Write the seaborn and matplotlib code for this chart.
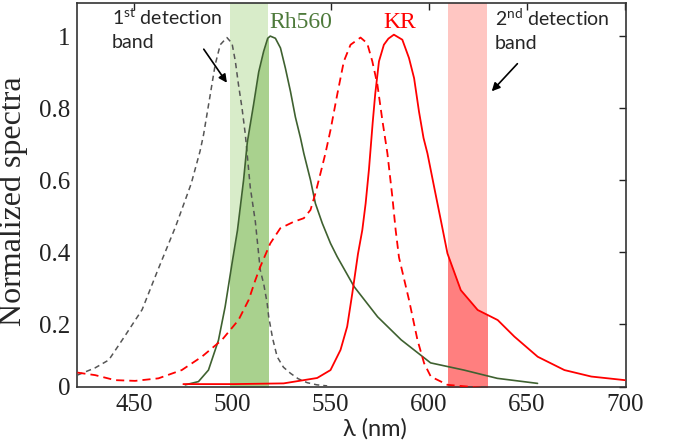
import matplotlib
matplotlib.use("Agg")
import matplotlib.pyplot as plt
import seaborn as sns
import pandas as pd

# Rh560 absorption (grey dashed)
rh_abs_nm = [421, 430, 437, 445, 454, 462, 471, 479, 483.5, 485.3, 488.7, 491.2, 493.8, 497.2,
             499.8, 501.5, 503.1, 504.9, 506.6, 509.1, 511.7, 514.2, 516, 517.7, 518.5, 520.5,
             522.8, 526, 529.6, 533.5, 538.1, 543, 548.3]
rh_abs = [0.058, 0.078, 0.10, 0.165, 0.24, 0.35, 0.47, 0.59, 0.68, 0.726, 0.837, 0.92, 0.976, 0.996,
          0.98, 0.93, 0.865, 0.80, 0.726, 0.58, 0.484, 0.35, 0.31, 0.258, 0.22, 0.16,
          0.109, 0.08, 0.063, 0.048, 0.037, 0.031, 0.028]

# Rh560 emission (dark green solid)
rh_em_nm = [476, 482.7, 487.8, 492.9, 496.3, 499.8, 502.6, 505.7, 507.6, 510.8, 513.4, 515.9, 518,
            519.3, 521.9, 524.5, 527, 529.6, 532.1, 534.7, 536.4, 539.8, 542.3, 545.8, 550, 553.4,
            562, 574, 586, 601, 618, 635, 655.5]
rh_em = [0.031, 0.04, 0.072, 0.155, 0.248, 0.368, 0.461, 0.6, 0.705, 0.81, 0.90, 0.957, 0.994,
         1.0, 0.994, 0.967, 0.911, 0.846, 0.775, 0.717, 0.674, 0.60, 0.535, 0.48, 0.424, 0.387,
         0.304, 0.22, 0.156, 0.092, 0.072, 0.049, 0.035]

# KR absorption (red dashed)
kr_abs_nm = [421, 430, 440.2, 450.4, 462.3, 474.2, 484.4, 494.7, 503.1, 508.3, 511.7, 514.2, 519.3,
             524.4, 531.2, 536.4, 539.8, 542.3, 544.9, 547.4, 550, 553.4, 556.8, 560.2, 565.3,
             568.7, 571.3, 573.9, 576.4, 579, 581.5, 583.2, 584.9, 590, 594.3, 597.7, 601.1,
             609.6, 626.6, 647.1]
kr_abs = [0.065, 0.058, 0.044, 0.042, 0.049, 0.072, 0.109, 0.156, 0.211, 0.267, 0.322, 0.359, 0.424,
          0.466, 0.484, 0.494, 0.517, 0.563, 0.619, 0.674, 0.739, 0.837, 0.93, 0.976, 0.996,
          0.98, 0.93, 0.865, 0.767, 0.674, 0.554, 0.461, 0.385, 0.267, 0.156, 0.091, 0.054,
          0.031, 0.023, 0.021]

# KR emission (red solid)
kr_em_nm = [475, 500.6, 526.1, 543.2, 550, 555.1, 558.5, 561.1, 564, 566.2, 567.9, 569.6, 571.5,
            572.8, 574.7, 577.2, 579.5, 582.3, 586.6, 590, 592.6, 595.1, 597.4, 599.4, 602.8,
            606.2, 609.6, 616.4, 625, 635.2, 643.7, 655.6, 669.2, 682.9, 700]
kr_em = [0.033, 0.033, 0.035, 0.05, 0.072, 0.128, 0.193, 0.285, 0.395, 0.461, 0.535, 0.63, 0.76,
         0.84, 0.93, 0.976, 0.993, 1.004, 0.99, 0.939, 0.883, 0.79, 0.717, 0.674, 0.581,
         0.489, 0.396, 0.294, 0.239, 0.211, 0.165, 0.109, 0.072, 0.054, 0.044]

band1 = (499, 518)
band2 = (610, 630)

x_ticks = [450, 500, 550, 600, 650, 700]
y_ticks = [0.025, 0.2, 0.4, 0.6, 0.8, 1.0]
y_tick_labels = ["0", "0.2", "0.4", "0.6", "0.8", "1"]

GREEN = "#3f6130"
GREY = "#555555"
RED = "#ff0000"

sns.set_style("white")
plt.rcParams["font.family"] = ["Liberation Serif", "DejaVu Serif"]
plt.rcParams["mathtext.fontset"] = "custom"
plt.rcParams["mathtext.rm"] = "Lato"
SANS = ["Lato", "DejaVu Sans"]

fig = plt.figure(figsize=(6.85, 4.48), dpi=100)
ax = fig.add_axes([0.1124, 0.1362, 0.8015, 0.8571])

# detection bands, the part under the emission curve darker
span1 = ax.axvspan(*band1, color="#d8ecc9", lw=0, zorder=1)
fill1 = ax.fill_between(rh_em_nm, rh_em, 0, color="#a9d18e", lw=0, zorder=1.5)
fill1.set_clip_path(span1)
span2 = ax.axvspan(*band2, color="#ffc6c2", lw=0, zorder=1)
fill2 = ax.fill_between(kr_em_nm, kr_em, 0, color="#ff7f7f", lw=0, zorder=1.5)
fill2.set_clip_path(span2)

curves = [
    (rh_abs_nm, rh_abs, GREY, 1.1, (3.5, 2.6)),
    (rh_em_nm, rh_em, GREEN, 1.2, None),
    (kr_abs_nm, kr_abs, RED, 1.3, (4.5, 2.8)),
    (kr_em_nm, kr_em, RED, 1.3, None),
]
for xs, ys, c, lw, dash in curves:
    df = pd.DataFrame({"nm": xs, "val": ys})
    sns.lineplot(data=df, x="nm", y="val", color=c, lw=lw, errorbar=None, ax=ax, zorder=3)
    if dash is not None:
        ax.lines[-1].set_dashes(dash)

ax.set_xlim(420.8, 700.6)
ax.set_ylim(0.025, 1.092)
ax.set_xticks(x_ticks)
ax.set_yticks(y_ticks)
ax.set_yticklabels(y_tick_labels)
ax.tick_params(direction="in", length=5, width=1, top=True, right=True,
               labelsize=18, pad=5, colors="#222222")
for s in ax.spines.values():
    s.set_color("#333333")
    s.set_linewidth(1.2)

ax.set_ylabel("Normalized spectra", fontsize=23)
ax.yaxis.set_label_coords(-0.089, 0.484)
ax.set_xlabel("λ (nm)", fontsize=17, family=SANS)
ax.xaxis.set_label_coords(0.543, -0.082)

ax.text(438.6, 1.080, "1$^{\\mathrm{st}}$ detection\nband", fontsize=14, family=SANS,
        ha="left", va="top", linespacing=1.42)
ax.annotate("", xy=(498.0, 0.864), xytext=(484.6, 0.970),
            arrowprops=dict(arrowstyle="-|>", color="black", lw=1.2, mutation_scale=12))
ax.text(633.8, 1.080, "2$^{\\mathrm{nd}}$ detection\nband", fontsize=14, family=SANS,
        ha="left", va="top", linespacing=1.42)
ax.annotate("", xy=(631.2, 0.841), xytext=(646.2, 0.929),
            arrowprops=dict(arrowstyle="-|>", color="black", lw=1.2, mutation_scale=12))

ax.text(518.6, 1.038, "Rh560", fontsize=17, color="#4e7a3b", ha="left", va="center")
ax.text(576.8, 1.038, "KR", fontsize=17, color=RED, ha="left", va="center")

fig.savefig("out.png", dpi=100)
